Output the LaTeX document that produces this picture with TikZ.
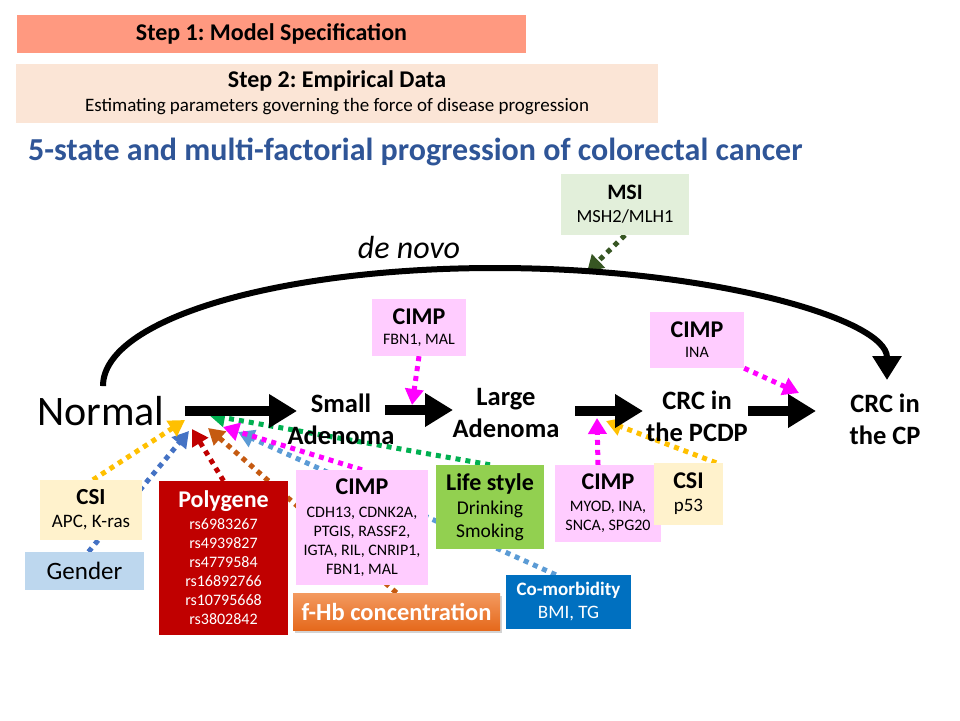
\documentclass[tikz,border=0pt]{standalone}
\usepackage{fontspec}
\setmainfont{Carlito}
\frenchspacing
\usetikzlibrary{arrows.meta,shadows,calc}
\pgfdeclarelayer{bg}
\pgfsetlayers{bg,main}
\definecolor{stepone}{HTML}{FF9980}
\definecolor{steptwo}{HTML}{FBE5D6}
\definecolor{titleblue}{HTML}{2F5597}
\definecolor{msifill}{HTML}{E2EFDA}
\definecolor{msiarrow}{HTML}{375623}
\definecolor{pinkfill}{HTML}{FFCCFF}
\definecolor{csifill}{HTML}{FFF2CC}
\definecolor{genderfill}{HTML}{BDD7EE}
\definecolor{polyfill}{HTML}{C00000}
\definecolor{lifefill}{HTML}{92D050}
\definecolor{comofill}{HTML}{0070C0}
\definecolor{fhbtop}{HTML}{F39A60}
\definecolor{fhbbot}{HTML}{E5691C}
\definecolor{cyellow}{HTML}{FFC000}
\definecolor{cblue}{HTML}{4472C4}
\definecolor{cred}{HTML}{C00000}
\definecolor{corange}{HTML}{C55A11}
\definecolor{cmagenta}{HTML}{FF00FF}
\definecolor{clightblue}{HTML}{5B9BD5}
\definecolor{cgreen}{HTML}{00B050}
\newcommand{\fs}[2]{\fontsize{#1}{#2}\selectfont}
\begin{document}
\begin{tikzpicture}[x=1pt,y=-1pt,
  box/.style={rectangle, inner sep=0pt, align=center},
  statenode/.style={inner sep=0pt, align=center, font=\fs{26.5}{32}\bfseries},
  bigarrow/.style={line width=10pt, -{Triangle[length=28pt,width=32pt]}},
  dotarrow/.style={line width=5pt, dash pattern=on 5pt off 5pt, -{Triangle[length=16pt,width=18pt]}}]
\useasboundingbox (0,0) rectangle (960,720);

% header boxes
\node[box, fill=stepone, minimum width=509pt, minimum height=38pt, font=\fs{24}{28}\bfseries] (s1) at (271.5,34) {Step 1: Model Specification};
\node[box, fill=steptwo, minimum width=642pt, minimum height=59pt] (s2) at (337,93)
  {{\fs{24}{28}\bfseries Step 2: Empirical Data}\\[6pt]{\fs{19}{23}Estimating parameters governing the force of disease progression}};
\node[anchor=west, inner sep=0pt, text=titleblue, font=\fs{32}{38}\bfseries] (title) at (28,152) {5-state and multi-factorial progression of colorectal cancer};

% top factor boxes
\node[box, fill=msifill, minimum width=128pt, minimum height=61pt, font=\fs{18.5}{22}] (msi) at (625,204.5) {{\fs{22}{26}\bfseries MSI}\\[1pt]MSH2/MLH1};
\node[font=\fs{32}{38}\itshape, inner sep=0pt] (denovo) at (409,247) {de novo};
\node[box, fill=pinkfill, minimum width=94pt, minimum height=57pt, font=\fs{16}{20}] (cimpT) at (419,327.5) {{\fs{24}{28}\bfseries CIMP}\\FBN1, MAL};
\node[box, fill=pinkfill, minimum width=94pt, minimum height=56pt, font=\fs{16}{20}] (cimpI) at (697,340) {{\fs{24}{28}\bfseries CIMP}\\INA};

% states
\node[inner sep=0pt, font=\fs{42}{48}] (normal) at (101,411) {Normal};
\node[statenode] (small) at (341,419) {Small\\Adenoma};
\node[statenode] (large) at (506,412.5) {Large\\Adenoma};
\node[statenode] (pcdp) at (697,416.5) {CRC in\\the PCDP};
\node[statenode] (cp) at (885,419) {CRC in\\the CP};

% bottom factor boxes
\node[box, fill=csifill, minimum width=102pt, minimum height=60pt, font=\fs{19}{23}] (csiL) at (91,510) {{\fs{23}{27}\bfseries CSI}\\APC, K-ras};
\node[box, fill=genderfill, minimum width=119pt, minimum height=38pt, font=\fs{25}{29}] (gender) at (84.5,571) {Gender};
\node[box, fill=polyfill, text=white, minimum width=129pt, minimum height=154pt, font=\fs{16}{19}] (poly) at (223.5,558)
  {{\fs{24}{28}\bfseries Polygene}\\[3pt]rs6983267\\rs4939827\\rs4779584\\rs16892766\\rs10795668\\rs3802842};
\node[box, fill=pinkfill, minimum width=132pt, minimum height=115pt, font=\fs{16}{19}] (cimpM) at (362,527.5)
  {{\fs{24}{28}\bfseries CIMP}\\[4pt]CDH13, CDNK2A,\\PTGIS, RASSF2,\\IGTA, RIL, CNRIP1,\\FBN1, MAL};
\node[box, top color=fhbtop, bottom color=fhbbot, text=white, minimum width=207pt, minimum height=37pt, font=\fs{24.5}{28}\bfseries,
  drop shadow={shadow xshift=2pt, shadow yshift=-3pt, opacity=0.35}] (fhb) at (396.5,611.5) {f-Hb concentration};
\node[box, fill=lifefill, minimum width=108pt, minimum height=84pt, font=\fs{19.5}{23}] (life) at (490,507) {{\fs{24}{28}\bfseries Life style}\\[1pt]Drinking\\Smoking};
\node[box, fill=comofill, text=white, minimum width=125pt, minimum height=54pt, font=\fs{19}{23}] (como) at (568.5,602) {{\bfseries Co-morbidity}\\BMI, TG};
\node[box, fill=pinkfill, minimum width=106pt, minimum height=77pt, font=\fs{16}{19}] (cimpR) at (608,503.5) {{\fs{24}{28}\bfseries CIMP}\\[3pt]MYOD, INA,\\SNCA, SPG20};
\node[box, fill=csifill, minimum width=69pt, minimum height=62pt, font=\fs{19}{23}] (csiR) at (688.5,494) {{\fs{24}{28}\bfseries CSI}\\p53};

% arrow targets
\coordinate (tY) at (185,420);
\coordinate (tB) at (189,431);
\coordinate (tR) at (192,429);
\coordinate (tO) at (208,428);
\coordinate (tM) at (223,427);
\coordinate (tLB) at (238,432);
\coordinate (tG) at (209,415);
\coordinate (tMR) at (597,418);
\coordinate (tYR) at (606,421);
\coordinate (tMT) at (412,405);
\coordinate (tMI) at (799,393);
\coordinate (tMSI) at (587,272);

\begin{pgfonlayer}{bg}
\draw[dotarrow, cgreen] (life.north) -- (tG);
\draw[dotarrow, clightblue] ([xshift=50pt]como.north west) -- (tLB);
\draw[dotarrow, corange] (fhb.north) -- (tO);
\draw[dotarrow, cmagenta] (cimpM.north) -- (tM);
\draw[dotarrow, cred] (poly.north) -- (tR);
\draw[dotarrow, cblue] ([xshift=4pt]gender.north) -- (tB);
\draw[dotarrow, cyellow] ([xshift=2pt]csiL.north) -- (tY);
\draw[dotarrow, cmagenta] ([xshift=-10pt]cimpR.north) -- (tMR);
\draw[dotarrow, cyellow] ([xshift=-7pt]csiR.north east) -- (tYR);
\draw[dotarrow, cmagenta] (cimpT.south) -- (tMT);
\draw[dotarrow, cmagenta] (cimpI.south east) -- (tMI);
\draw[dotarrow, msiarrow] (msi.south) -- (tMSI);
\end{pgfonlayer}

% main arrows
\draw[bigarrow] ($(normal.center)+(84,0)$) -- ($(small.center)+(-44,-8)$);
\draw[bigarrow] ($(small.center)+(44,-9)$) -- ($(large.center)+(-53,-2.5)$);
\draw[bigarrow] ($(large.center)+(69,-1.5)$) -- ($(pcdp.center)+(-54,-5.5)$);
\draw[bigarrow] ($(pcdp.center)+(51,-5.5)$) -- ($(cp.center)+(-69,-8)$);
\draw[line width=6pt, -{Triangle[length=24pt,width=28pt]}] ([xshift=2pt,yshift=10pt]normal.north)
  .. controls (103,319) and (279,268) .. (495,268)
  .. controls (711,268) and (887,319) .. (887,380);
\end{tikzpicture}
\end{document}
